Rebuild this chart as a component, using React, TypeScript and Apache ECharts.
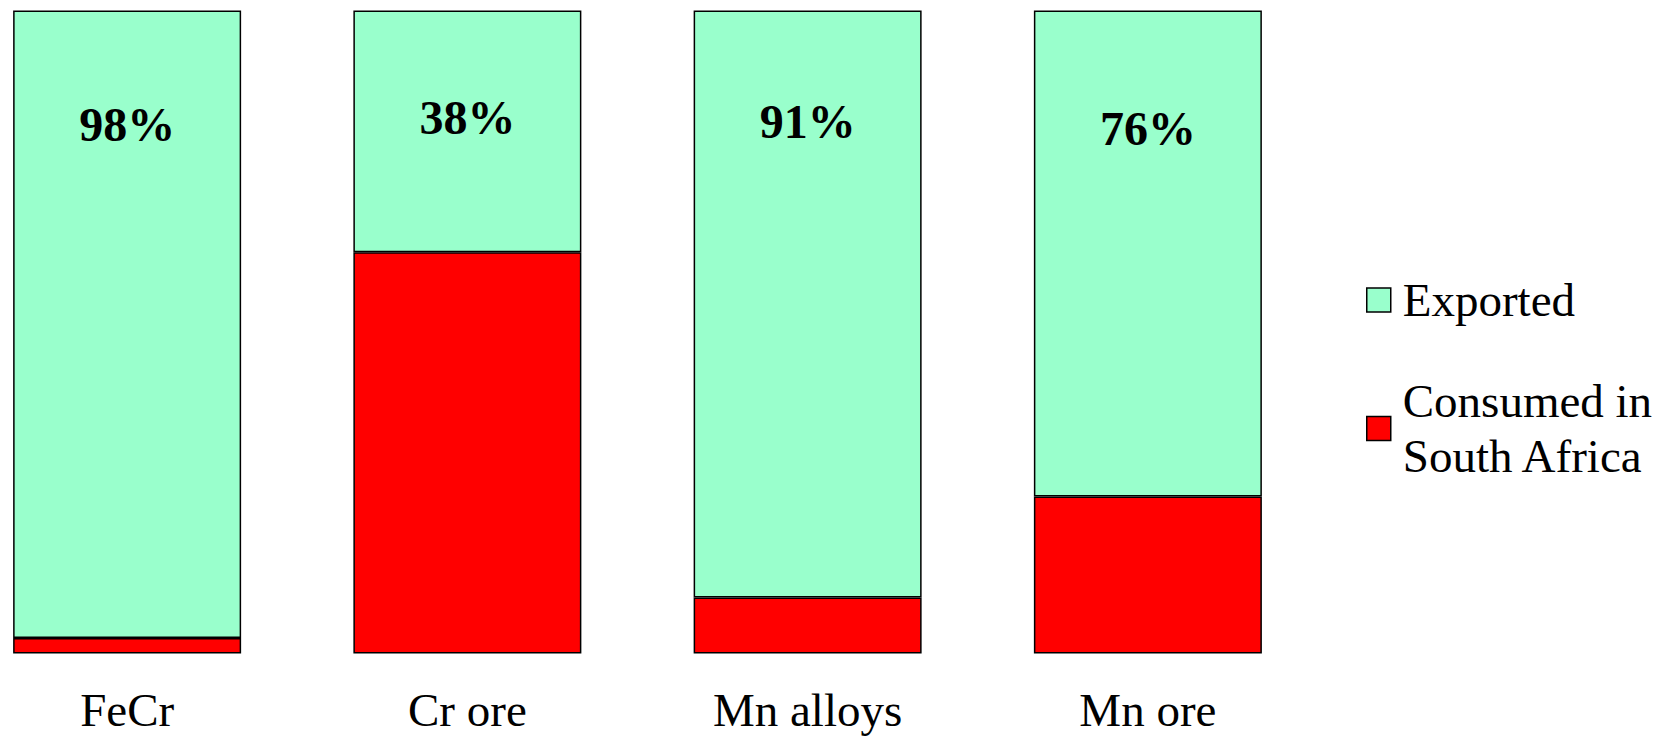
import React, { useEffect, useRef } from "react";
import * as echarts from "echarts";

const categories = ["FeCr", "Cr ore", "Mn alloys", "Mn ore"];
const exported = [97.6, 37.6, 91.3, 75.6];
const consumed = [2.4, 62.4, 8.7, 24.4];
const exportedLabels = ["98%", "38%", "91%", "76%"];
const labelDistance = [89, 82, 86, 93];

const FONT = "'Liberation Serif', 'Times New Roman', serif";

export default function App() {
  const ref = useRef<HTMLDivElement>(null);
  useEffect(() => {
    if (!ref.current) return;
    const chart = echarts.init(ref.current, null, { renderer: "svg" });
    chart.setOption({
      animation: false,
      backgroundColor: "#ffffff",
      textStyle: { fontFamily: FONT },
      grid: { left: -43, width: 1361, top: 10.5, height: 643, outerBoundsMode: "none", containLabel: false },
      xAxis: {
        type: "category",
        data: categories,
        axisLine: { show: false },
        axisTick: { show: false },
        axisLabel: { color: "#000", fontSize: 47, fontFamily: FONT, margin: 33, lineHeight: 47 },
      },
      yAxis: { type: "value", min: 0, max: 100, show: false, splitLine: { show: false } },
      legend: [
        {
          data: ["Exported"],
          left: 1366,
          top: 272.5,
          padding: 0,
          itemWidth: 24,
          itemHeight: 24,
          icon: "rect",
          textStyle: { fontSize: 47, fontFamily: FONT, color: "#000", lineHeight: 55, padding: [0, 0, 0, 7] },
          itemStyle: { borderColor: "#000", borderWidth: 1.5 },
        },
        {
          data: ["Consumed in South Africa"],
          left: 1366,
          top: 346,
          padding: 0,
          itemWidth: 24,
          itemHeight: 24,
          icon: "rect",
          formatter: () => "Consumed in\nSouth Africa",
          textStyle: { fontSize: 47, fontFamily: FONT, color: "#000", lineHeight: 55, padding: [55, 0, 0, 7] },
          itemStyle: { borderColor: "#000", borderWidth: 1.5 },
        },
      ],
      series: [
        {
          name: "Consumed in South Africa",
          type: "bar",
          stack: "total",
          barWidth: 228,
          data: consumed,
          itemStyle: { color: "#FF0000", borderColor: "#000", borderWidth: 1.5 },
        },
        {
          name: "Exported",
          type: "bar",
          stack: "total",
          barWidth: 228,
          data: exported.map((v, i) => ({
            value: v,
            label: { distance: labelDistance[i] },
          })),
          itemStyle: { color: "#99FFCC", borderColor: "#000", borderWidth: 1.5 },
          label: {
            show: true,
            position: "insideTop",
            formatter: (p: any) => exportedLabels[p.dataIndex],
            color: "#000",
            fontSize: 48,
            fontWeight: "bold",
            fontFamily: FONT,
            lineHeight: 50,
          },
        },
      ],
    });
    return () => chart.dispose();
  }, []);
  return (
    <div
      ref={ref}
      style={{ position: "fixed", left: 0, top: 0, width: 1666, height: 736, background: "#fff" }}
    />
  );
}
